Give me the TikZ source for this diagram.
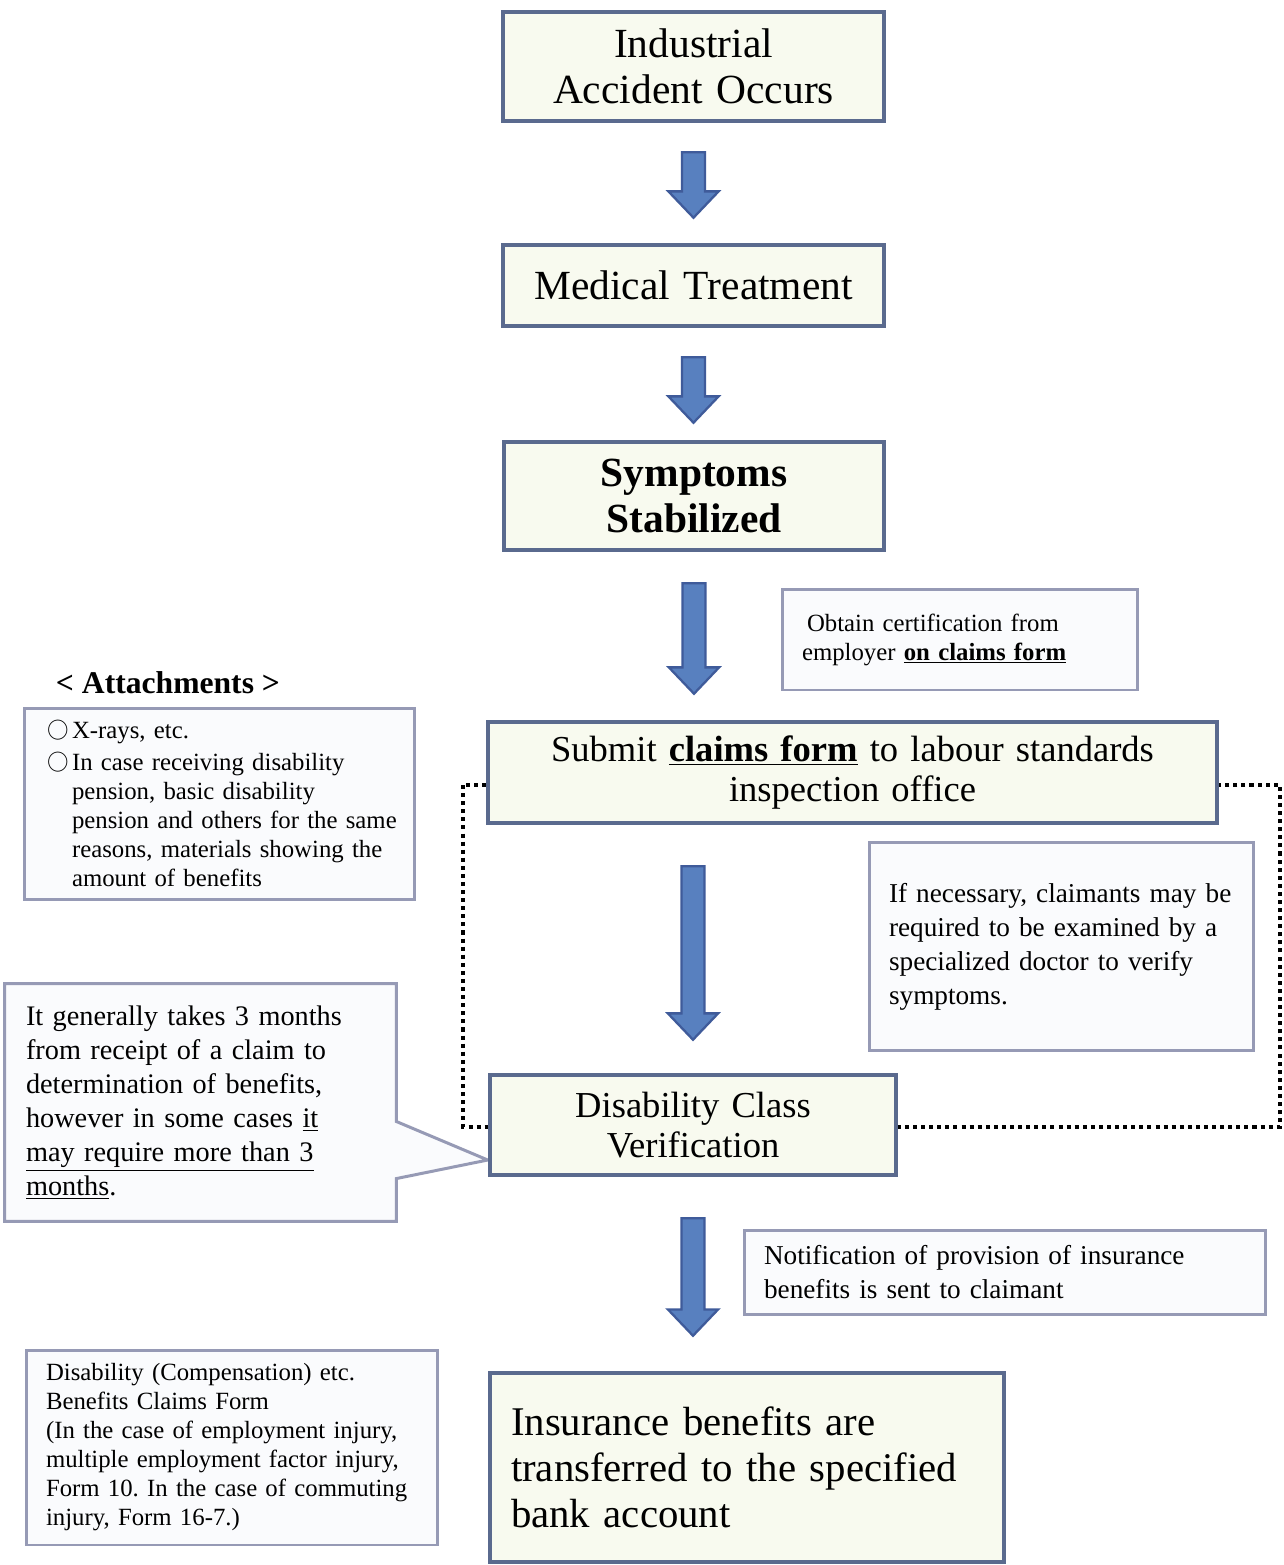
\documentclass[tikz,border=0pt]{standalone}
\usepackage{fontspec}
\setmainfont{Liberation Serif}
\usetikzlibrary{calc}
\definecolor[named]{BoxFill}{HTML}{F8FAEF}
\definecolor[named]{BoxLine}{HTML}{5A6A8E}
\definecolor[named]{NoteFill}{HTML}{FAFBFD}
\definecolor[named]{NoteLine}{HTML}{969AB5}
\definecolor[named]{ArrowFill}{HTML}{5880BF}
\definecolor[named]{ArrowLine}{HTML}{3F5B9A}
\pgfdeclarelayer{background}
\pgfsetlayers{background,main}
\frenchspacing
\newcommand{\stepfont}{\fontsize{23.6pt}{26.2pt}\selectfont}
\newcommand{\subfont}{\fontsize{20.8pt}{22.8pt}\selectfont}
\newcommand{\notefont}{\fontsize{14.1pt}{16.5pt}\selectfont}
\newcommand{\widefont}{\fontsize{15.5pt}{19.3pt}\selectfont}
\newcommand{\padleft}[1][0.4cm]{\leftskip=#1\relax}
\newcommand{\bul}{\makebox[0.5cm][l]{\raisebox{1.6pt}{\scalebox{0.85}{$\bigcirc$}}}}
\newcommand{\ind}{\hspace*{0.5cm}}
% block arrow from #1 (top of shaft) down to #2 (tip)
\newcommand{\blockarrow}[2]{%
  \filldraw[fill=ArrowFill,draw=ArrowLine,line width=1.3pt]
    let \p1=#1, \p2=#2 in
    (\x1-6.5pt,\y1) -- (\x1+6.5pt,\y1) -- (\x1+6.5pt,\y2+15pt)
    -- (\x1+14.3pt,\y2+15pt) -- (\x1,\y2) -- (\x1-14.3pt,\y2+15pt)
    -- (\x1-6.5pt,\y2+15pt) -- cycle;
}
\tikzset{
  stepbox/.style={draw=BoxLine,fill=BoxFill,line width=2.6pt,
    align=center,inner sep=0pt},
  notebox/.style={draw=NoteLine,fill=NoteFill,line width=1.7pt,
    align=left,inner sep=0pt,font=\notefont},
}

\begin{document}
\begin{tikzpicture}[x=0.02cm,y=-0.02cm]
  \begin{pgfonlayer}{background}
    \path[fill=white,use as bounding box] (0,0) rectangle (1284,1565);
  \end{pgfonlayer}

  % main steps
  \node[stepbox,minimum width=7.62cm,text width=7.62cm,minimum height=2.18cm,
    font=\stepfont] (acc) at (693.5,66.5) {Industrial\\Accident Occurs};
  \node[stepbox,minimum width=7.62cm,text width=7.62cm,minimum height=1.62cm,
    font=\stepfont] (med) at (693.5,285.5) {Medical Treatment};
  \node[stepbox,minimum width=7.6cm,text width=7.6cm,minimum height=2.16cm,
    font=\stepfont\bfseries] (sym) at (694,496) {Symptoms\\Stabilized};
  \node[stepbox,minimum width=14.58cm,text width=14.58cm,minimum height=2.02cm,
    font=\subfont] (sub) at (852.5,772.5)
    {Submit \underline{\textbf{claims form}} to labour standards\\inspection office};
  \node[stepbox,minimum width=8.12cm,text width=8.12cm,minimum height=2cm,
    font=\subfont] (dcv) at (693,1125) {Disability Class\\Verification};
  \node[stepbox,align=left,minimum width=10.28cm,text width=10.28cm,
    minimum height=3.78cm,font=\fontsize{23.2pt}{26.2pt}\selectfont]
    (ins) at (747,1467.5)
    {\padleft[0.42cm]Insurance benefits are\\transferred to the specified\\bank account\par};

  % notes
  \node[notebox,minimum width=7.12cm,text width=7.12cm,minimum height=2.02cm]
    (obt) at (960,639.5)
    {\padleft\hspace{0.1cm}Obtain certification from\\employer \underline{\textbf{on claims form}}\par};
  \node[font=\fontsize{18pt}{20pt}\selectfont\bfseries] (atttitle) at (168,683)
    {< Attachments >};
  \node[notebox,minimum width=7.82cm,text width=7.82cm,minimum height=3.84cm]
    (att) at (219.5,804)
    {\padleft[0.46cm]\bul X-rays, etc.\\[1.7pt]
     \bul In case receiving disability\\
     \ind pension, basic disability\\
     \ind pension and others for the same\\
     \ind reasons, materials showing the\\
     \ind amount of benefits\par};
  \node[notebox,minimum width=7.7cm,text width=7.7cm,minimum height=4.18cm,
    font=\widefont] (nec) at (1061.5,946.5)
    {\padleft If necessary, claimants may be\\required to be examined by a\\
     specialized doctor to verify\\symptoms.\par};
  \node[notebox,draw=none,fill=none,minimum width=7.78cm,text width=7.78cm,
    minimum height=4.7cm,font=\fontsize{16.1pt}{19.3pt}\selectfont]
    (call) at (200.5,1102.5)
    {\padleft It generally takes 3 months\\from receipt of a claim to\\
     determination of benefits,\\however in some cases \underline{it}\\
     \underline{may require more than 3}\\\underline{months}.\par};
  \node[notebox,minimum width=10.44cm,text width=10.44cm,minimum height=1.68cm,
    font=\widefont] (ntf) at (1005,1272)
    {\padleft Notification of provision of insurance\\benefits is sent to claimant\par};
  \node[notebox,minimum width=8.24cm,text width=8.24cm,minimum height=3.9cm]
    (frm) at (232,1447.5)
    {\padleft Disability (Compensation) etc.\\Benefits Claims Form\\
     (In the case of employment injury,\\multiple employment factor injury,\\
     Form 10. In the case of commuting\\injury, Form 16-7.)\par};

  \begin{pgfonlayer}{background}
    \draw[line width=2.3pt,dash pattern=on 2.3pt off 2.3pt]
      (463,785) rectangle (1280,1127);
    \filldraw[draw=NoteLine,fill=NoteFill,line width=1.7pt]
      (call.north west) -- (call.north east) -- ($(call.north east)+(0,138)$)
      -- ($(dcv.west)+(0,35)$) -- ($(call.north east)+(0,195)$)
      -- (call.south east) -- (call.south west) -- cycle;
  \end{pgfonlayer}

  \blockarrow{($(acc.south)+(0,29)$)}{($(med.north)+(0,-25)$)}
  \blockarrow{($(med.south)+(0,29)$)}{($(sym.north)+(0,-17)$)}
  \blockarrow{($(sym.south)+(0,31)$)}{($(sub.north)+(0,-26)$)}
  \blockarrow{($(dcv.north |- sub.south)+(0,41)$)}{($(dcv.north)+(0,-33)$)}
  \blockarrow{($(dcv.south)+(0,41)$)}{($(ins.north)+(0,-35)$)}
\end{tikzpicture}
\end{document}
